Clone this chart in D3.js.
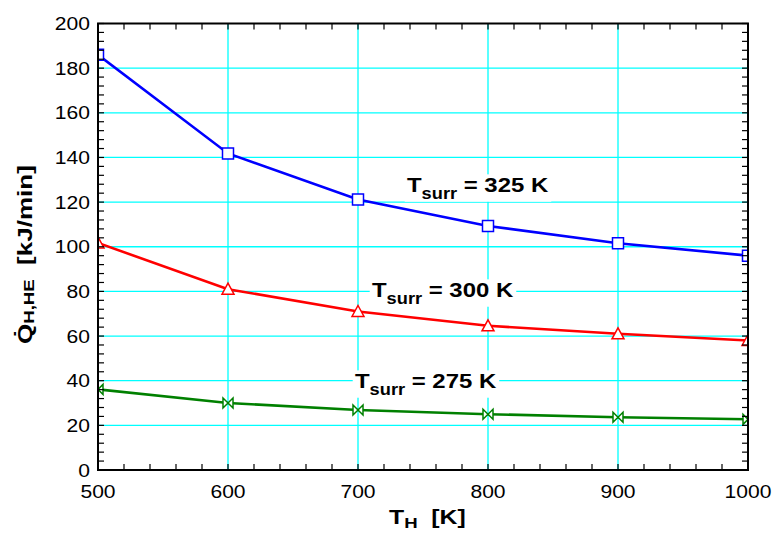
<!DOCTYPE html>
<html><head><meta charset="utf-8">
<script src="https://cdn.jsdelivr.net/npm/d3@7"></script>
<style>body{margin:0;background:#fff;} svg{display:block;font-family:"Liberation Sans",Arial,sans-serif;}</style>
</head><body>
<script>
const tempsH = [500, 600, 700, 800, 900, 1000];
const q325 = [186, 141.8, 121.2, 109.3, 101.6, 96];
const q300 = [101.7, 81, 71, 64.6, 61, 58];
const q275 = [36.1, 30, 26.9, 25, 23.6, 22.7];
const seriesNames = ["325", "300", "275"];
const xTicks = [500, 600, 700, 800, 900, 1000];
const yTicks = [0, 20, 40, 60, 80, 100, 120, 140, 160, 180, 200];

const W = 773, H = 535;
const SX = 1.14, ST = 1.24;
const m = {l: 98, r: 25, t: 23.5, b: 65};
const svg = d3.select("body").append("svg").attr("width", W).attr("height", H);
const x = d3.scaleLinear().domain([500, 1000]).range([m.l, W - m.r]);
const y = d3.scaleLinear().domain([0, 200]).range([H - m.b, m.t]);
const x0 = x.range()[0], x1 = x.range()[1], y0 = y.range()[0], y1 = y.range()[1];

// grid
const g = svg.append("g");
g.selectAll(".gx").data(xTicks.slice(1, -1)).join("line")
  .attr("x1", d => x(d)).attr("x2", d => x(d)).attr("y1", y0).attr("y2", y1)
  .attr("stroke", "#00ffff").attr("stroke-width", 1.3);
g.selectAll(".gy").data(yTicks.slice(1, -1)).join("line")
  .attr("x1", x0).attr("x2", x1).attr("y1", d => y(d)).attr("y2", d => y(d))
  .attr("stroke", "#00ffff").attr("stroke-width", 1.3);

// labels with white background
const labLayer = svg.append("g");
function label(val, tx, ty) {
  const gg = labLayer.append("g").attr("transform", `translate(${tx},${ty}) scale(${SX},1)`);
  const bg = gg.append("rect").attr("fill", "#fff");
  const t = gg.append("text").attr("font-size", 21).attr("font-weight", "bold").attr("fill", "#000");
  t.append("tspan").text("T");
  t.append("tspan").attr("font-size", 16).attr("dy", 7).text("surr");
  t.append("tspan").attr("dy", -7).text(" = " + val + " K");
  const bb = t.node().getBBox();
  bg.attr("x", bb.x - 2).attr("y", bb.y + 1).attr("width", bb.width + 4).attr("height", bb.height - 2);
}
label(seriesNames[0], 407, 192);
label(seriesNames[1], 372, 297);
label(seriesNames[2], 355, 388);

// clip
svg.append("clipPath").attr("id", "clip").append("rect")
  .attr("x", x0).attr("y", y1).attr("width", x1 - x0).attr("height", y0 - y1);
const plot = svg.append("g").attr("clip-path", "url(#clip)");
const line = d3.line().x((d, i) => x(tempsH[i])).y(d => y(d));
const series = [
  {v: q325, c: "#0000ff", s: "square"},
  {v: q300, c: "#ff0000", s: "tri"},
  {v: q275, c: "#008000", s: "bow"}
];
series.forEach(se => {
  plot.append("path").datum(se.v).attr("d", line).attr("fill", "none")
    .attr("stroke", se.c).attr("stroke-width", 2.6);
  se.v.forEach((d, i) => {
    const cx = x(tempsH[i]), cy = y(d);
    let p;
    if (se.s === "square") p = `M${cx-5.5},${cy-5.5}h11v11h-11Z`;
    else if (se.s === "tri") p = `M${cx},${cy-6}L${cx+6},${cy+5}L${cx-6},${cy+5}Z`;
    else p = `M${cx-5},${cy-5}L${cx+5},${cy+5}L${cx+5},${cy-5}L${cx-5},${cy+5}Z`;
    plot.append("path").attr("d", p).attr("fill", "#fff").attr("stroke", se.c).attr("stroke-width", 1.5);
  });
});

// frame and ticks
const ax = svg.append("g").attr("stroke", "#000");
ax.append("rect").attr("x", x0).attr("y", y1).attr("width", x1 - x0).attr("height", y0 - y1)
  .attr("fill", "none").attr("stroke-width", 2);
const xMinor = d3.range(500, 1001, 20);
const yMinor = d3.range(0, 201, 4);
xMinor.forEach(v => {
  ax.append("line").attr("x1", x(v)).attr("x2", x(v)).attr("y1", y0).attr("y2", y0 - 6).attr("stroke-width", 1.2);
  ax.append("line").attr("x1", x(v)).attr("x2", x(v)).attr("y1", y1).attr("y2", y1 + 6).attr("stroke-width", 1.2);
});
yMinor.forEach(v => {
  ax.append("line").attr("x1", x0).attr("x2", x0 + 6).attr("y1", y(v)).attr("y2", y(v)).attr("stroke-width", 1.2);
  ax.append("line").attr("x1", x1).attr("x2", x1 - 6).attr("y1", y(v)).attr("y2", y(v)).attr("stroke-width", 1.2);
});

// tick labels
svg.selectAll(".xl").data(xTicks).join("text")
  .attr("transform", d => `translate(${x(d)},498) scale(${SX},1)`).attr("text-anchor", "middle")
  .attr("font-size", 18.5).text(d => d);
svg.selectAll(".yl").data(yTicks).join("text")
  .attr("transform", d => `translate(90,${y(d) + 6.5}) scale(${SX},1)`).attr("text-anchor", "end")
  .attr("font-size", 18.5).text(d => d);

// axis titles
const xt = svg.append("text").attr("transform", `translate(389,524) scale(${ST},1)`)
  .attr("font-size", 20).attr("font-weight", "bold").attr("xml:space", "preserve");
xt.append("tspan").text("T");
xt.append("tspan").attr("font-size", 15).attr("dy", 4).text("H");
xt.append("tspan").attr("dy", -4).text("  [K]");

const yt = svg.append("text").attr("transform", `translate(32,344) rotate(-90) scale(${ST},1)`)
  .attr("font-size", 21).attr("font-weight", "bold").attr("xml:space", "preserve");
yt.append("tspan").text("Q\u0307");
yt.append("tspan").attr("font-size", 15).attr("dy", 2).text("H,HE");
yt.append("tspan").attr("dy", -2).text("  [kJ/min]");
</script>
</body></html>
